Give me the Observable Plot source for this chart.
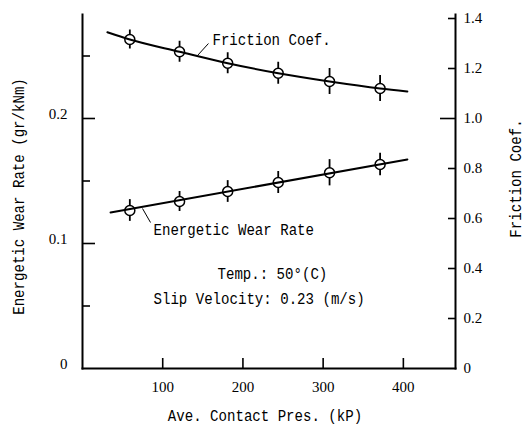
<!DOCTYPE html>
<html><head><meta charset="utf-8">
<script src="https://cdn.jsdelivr.net/npm/d3@7"></script>
<script src="https://cdn.jsdelivr.net/npm/@observablehq/plot@0.6"></script>
<style>html,body{margin:0;padding:0;background:#fff} #chart svg{display:block}</style>
</head><body><div id="chart"></div>
<script>
// ---- data ----
const pressure      = [59, 121, 181, 244, 308, 371];          // kP
const wearRate      = [0.1264, 0.1336, 0.1416, 0.1488, 0.1566, 0.1632]; // gr/kNm
const wearErr       = [0.0087, 0.0080, 0.0087, 0.0088, 0.0105, 0.0090];
const friction      = [1.316, 1.267, 1.221, 1.181, 1.148, 1.120];
const frictionErr   = [0.038, 0.042, 0.042, 0.044, 0.052, 0.052];
const wearFitX      = [35, 405];
const wearFitY      = [0.1248, 0.1672];
const frictionFitX  = [31, 59, 121, 181, 244, 308, 371, 405];
const frictionFitY  = [1.345, 1.316, 1.267, 1.221, 1.181, 1.148, 1.120, 1.108];
const xTicks        = [100, 200, 300, 400];
const wearMajor     = [0.1, 0.2];
const wearMinor     = [0.05, 0.15, 0.25];
const wearLabels    = [0, 0.1, 0.2];
const fricTicks     = [0.2, 0.4, 0.6, 0.8, 1.2, 1.4];
const fricLong      = [1.0];
const fricLabels    = [0, 0.2, 0.4, 0.6, 0.8, 1.0, 1.2, 1.4];
const K = 5; // friction axis value = K × wear-rate axis value

// annotations
const notes = [
  {text: "Friction Coef.", x: 162, y: 0.2632},
  {text: "Energetic Wear Rate", x: 88.5, y: 0.1112},
  {text: "Temp.: 50°(C)", x: 168.3, y: 0.076},
  {text: "Slip Velocity: 0.23 (m/s)", x: 88.5, y: 0.056}
];
const leaders = [
  {x1: 143.4, y1: 0.2504, x2: 157, y2: 0.2600},
  {x1: 74.8, y1: 0.1280, x2: 84.8, y2: 0.1168}
];

const wearData = pressure.map((p, i) => ({p, v: wearRate[i], e: wearErr[i]}));
const fricData = pressure.map((p, i) => ({p, f: friction[i], e: frictionErr[i]}));
const wearFit = wearFitX.map((p, i) => ({p, v: wearFitY[i]}));
const fricFit = frictionFitX.map((p, i) => ({p, f: frictionFitY[i]}));

const mono = "Liberation Mono";
const fmt = d => d === 0 ? "0" : d.toFixed(1);

const chart = Plot.plot({
  width: 526, height: 430,
  marginLeft: 82, marginRight: 71, marginTop: 14, marginBottom: 62,
  x: {domain: [0, 465]},
  y: {domain: [0, 0.2832]},
  style: {fontFamily: "Liberation Serif", fontSize: "15px", color: "#000", background: "#fff"},
  marks: [
    Plot.frame({anchor: "left", strokeWidth: 2}),
    Plot.frame({anchor: "bottom", strokeWidth: 2}),
    Plot.frame({anchor: "right", strokeWidth: 2}),
    // left axis
    Plot.axisY({anchor: "left", ticks: wearMajor, tickSize: -13, tickFormat: () => "", strokeWidth: 1.6, label: null}),
    Plot.axisY({anchor: "left", ticks: wearMinor, tickSize: -8, tickFormat: () => "", strokeWidth: 1.6, label: null}),
    Plot.axisY({anchor: "left", ticks: wearLabels, tickSize: 0, tickPadding: 15, tickFormat: fmt, dy: -4, label: null}),
    // right axis (friction)
    Plot.axisY({anchor: "right", ticks: fricTicks.map(t => t / K), tickSize: -8, tickFormat: () => "", strokeWidth: 1.6, label: null}),
    Plot.axisY({anchor: "right", ticks: fricLong.map(t => t / K), tickSize: -16, tickFormat: () => "", strokeWidth: 1.6, label: null}),
    Plot.axisY({anchor: "right", ticks: fricLabels.map(t => t / K), tickSize: 0, tickPadding: 8, tickFormat: d => fmt(Math.round(d * K * 10) / 10), label: null}),
    // bottom axis
    Plot.axisX({anchor: "bottom", ticks: xTicks, tickSize: -10, tickFormat: () => "", strokeWidth: 1.6, label: null}),
    Plot.axisX({anchor: "bottom", ticks: xTicks, tickSize: 0, tickPadding: 13, tickFormat: d => String(d), label: null}),
    // axis titles
    Plot.text(["Energetic Wear Rate (gr/kNm)"], {frameAnchor: "left", textAnchor: "middle", rotate: -90, dx: -64, dy: 5, fontFamily: mono, fontSize: 16}),
    Plot.text(["Friction Coef."], {frameAnchor: "right", textAnchor: "middle", rotate: -90, dx: 60, dy: -13, fontFamily: mono, fontSize: 16}),
    Plot.text(["Ave. Contact Pres. (kP)"], {frameAnchor: "bottom", textAnchor: "middle", dx: -4, dy: 52, fontFamily: mono, fontSize: 16}),
    // error bars
    Plot.ruleX(wearData, {x: "p", y1: d => d.v - d.e, y2: d => d.v + d.e, strokeWidth: 1.8}),
    Plot.ruleX(fricData, {x: "p", y1: d => (d.f - d.e) / K, y2: d => (d.f + d.e) / K, strokeWidth: 1.8}),
    // markers
    Plot.dot(wearData, {x: "p", y: "v", r: 5, fill: "#fff", stroke: "#000", strokeWidth: 1.5}),
    Plot.dot(fricData, {x: "p", y: d => d.f / K, r: 5, fill: "#fff", stroke: "#000", strokeWidth: 1.5}),
    // fitted curves
    Plot.line(wearFit, {x: "p", y: "v", strokeWidth: 2}),
    Plot.line(fricFit, {x: "p", y: d => d.f / K, strokeWidth: 2, curve: "monotone-x"}),
    // annotations
    Plot.link(leaders, {x1: "x1", y1: "y1", x2: "x2", y2: "y2", strokeWidth: 1}),
    Plot.text(notes, {x: "x", y: "y", text: "text", textAnchor: "start", fontFamily: mono, fontSize: 16})
  ]
});

// narrow half-width glyphs, as in the reference typeface
chart.querySelectorAll(`g[font-family="${mono}"] text`).forEach(t => {
  const n = t.textContent.length;
  t.setAttribute("textLength", (n * 8.45).toFixed(1));
  t.setAttribute("lengthAdjust", "spacingAndGlyphs");
});
document.getElementById("chart").appendChild(chart);
</script>
</body></html>
